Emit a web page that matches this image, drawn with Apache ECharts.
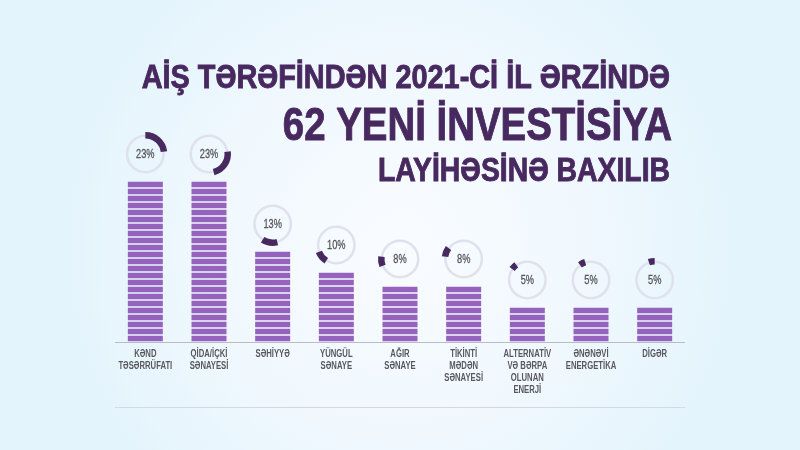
<!DOCTYPE html>
<html>
<head>
<meta charset="utf-8">
<style>html,body{margin:0;padding:0;background:#fff}#main{width:800px;height:450px}</style>
<script src="https://cdn.jsdelivr.net/npm/echarts@6/dist/echarts.min.js"></script>
</head>
<body>
<div id="main"></div>
<script>
var categories = ['KƏND\nTƏSƏRRÜFATI', 'QİDA/İÇKİ\nSƏNAYESİ', 'SƏHİYYƏ', 'YÜNGÜL\nSƏNAYE', 'AĞIR\nSƏNAYE',
    'TİKİNTİ\nMƏDƏN\nSƏNAYESİ', 'ALTERNATİV\nVƏ BƏRPA\nOLUNAN\nENERJİ', 'ƏNƏNƏVİ\nENERGETİKA', 'DİGƏR'];
var shares = [23, 23, 13, 10, 8, 8, 5, 5, 5];
var titleLines = ['AİŞ TƏRƏFİNDƏN 2021-Cİ İL ƏRZİNDƏ', '62 YENİ İNVESTİSİYA', 'LAYİHƏSİNƏ BAXILIB'];

var font = '"Liberation Sans", sans-serif';
var purple = '#47295f';

// each ring starts where the previous one stopped
var starts = [];
var total = 0;
for (var i = 0; i < shares.length; i++) {
    starts.push(total);
    total += shares[i];
}

function renderRing(params, api) {
    var idx = api.value(0);
    var val = api.value(1);
    var top = api.coord([idx, val]);
    var base = api.coord([idx, 0]);
    var cx = top[0];
    var cy = top[1] - 27;
    var a0 = -Math.PI / 2 + starts[idx] / 100 * Math.PI * 2;
    var a1 = a0 + val / 100 * Math.PI * 2;
    return {
        type: 'group',
        children: [
            {
                type: 'ring',
                shape: {cx: cx, cy: cy, r: 19.5, r0: 17},
                style: {fill: '#dfe1ec'}
            },
            {
                type: 'sector',
                shape: {cx: cx, cy: cy, r: 22, r0: 15.5, startAngle: a0, endAngle: a1, clockwise: true},
                style: {fill: purple}
            },
            {
                type: 'text',
                x: cx,
                y: cy,
                scaleX: 0.71,
                style: {
                    text: val + '%', align: 'center', verticalAlign: 'middle',
                    fill: '#55555a', font: '13px ' + font, stroke: '#55555a', lineWidth: 0.3
                }
            },
            // the font has no narrow cut here, so the labels are squeezed
            {
                type: 'text',
                x: cx,
                y: base[1] + 6,
                scaleX: 0.67,
                style: {
                    text: categories[idx], align: 'center', verticalAlign: 'top',
                    fill: '#58585e', font: 'bold 11.5px ' + font, lineHeight: 12
                }
            }
        ]
    };
}

function titleText(line, x, y, size, squeeze) {
    return {
        type: 'text', x: x, y: y, scaleX: squeeze,
        style: {
            text: line, align: 'right', verticalAlign: 'middle', fill: purple,
            font: 'bold ' + size + 'px ' + font, stroke: purple, lineWidth: 0.9
        }
    };
}

var chart = echarts.init(document.getElementById('main'));
chart.setOption({
    animation: false,
    backgroundColor: {
        type: 'radial', x: 0.5, y: 0.55, r: 0.75,
        colorStops: [
            {offset: 0, color: '#f9fcff'},
            {offset: 0.55, color: '#f0f8fe'},
            {offset: 1, color: '#e4f4fc'}
        ]
    },
    grid: {left: 113.5, top: 20, width: 573, height: 322},
    xAxis: {
        type: 'category',
        data: categories,
        axisLine: {show: false},
        axisTick: {show: false},
        axisLabel: {show: false}
    },
    yAxis: {type: 'value', min: 0, max: 46, show: false},
    graphic: [
        {type: 'line', shape: {x1: 115, y1: 342.5, x2: 685, y2: 342.5}, style: {stroke: '#b9bcc4', lineWidth: 1}},
        {type: 'line', shape: {x1: 115, y1: 407.5, x2: 685, y2: 407.5}, style: {stroke: '#d5d9df', lineWidth: 1}},
        titleText(titleLines[0], 670, 79, 33, 0.875),
        titleText(titleLines[1], 672, 127, 47, 0.817),
        titleText(titleLines[2], 670, 172, 33, 0.859)
    ],
    series: [
        {
            type: 'pictorialBar',
            // one stripe per percent
            data: shares.map(function (v) { return {value: v, symbolRepeat: v, symbolBoundingData: v}; }),
            symbol: 'rect',
            symbolSize: [35, 5.6],
            symbolMargin: '0.7!',
            symbolPosition: 'start',
            itemStyle: {color: '#9563bd'}
        },
        {
            type: 'custom',
            renderItem: renderRing,
            encode: {x: 0, y: 1},
            clip: false,
            data: shares.map(function (v, i) { return [i, v]; })
        }
    ]
});
</script>
</body>
</html>
